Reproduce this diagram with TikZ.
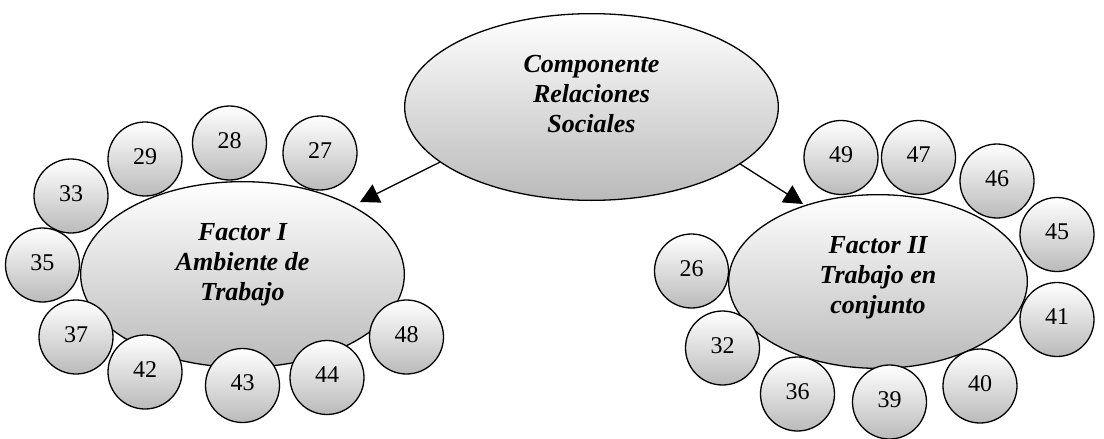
\documentclass[tikz,border=0pt]{standalone}
\usepackage{fontspec}
\setmainfont{Liberation Serif}
\usetikzlibrary{shapes.geometric,arrows.meta}

\tikzset{
  shaded/.style={draw=black, line width=1.3pt, top color=white, bottom color=black!27},
  bigoval/.style={shaded, ellipse, inner sep=0pt},
  item/.style={shaded, circle, inner sep=0pt, minimum size=74pt,
    font=\fontsize{24}{28}\selectfont, text height=16pt, text depth=6pt},
  title/.style={align=center, inner sep=0pt,
    font=\fontsize{26}{30}\selectfont\bfseries\itshape},
  link/.style={line width=1.3pt, -{Triangle[length=19pt,width=20pt]}},
}

\begin{document}
\begin{tikzpicture}[x=1pt, y=-1pt]
\useasboundingbox (0,0) rectangle (1104,439);

% main component and its two factors
\node[bigoval, minimum width=373.7pt, minimum height=186.7pt] (top) at (591.5,107) {};
\node[title] (toptext) at (591.5,94.5) {Componente\\Relaciones\\Sociales};

\node[bigoval, minimum width=323.7pt, minimum height=185.7pt] (f1) at (242.5,274.5) {};
\node[title] (f1text) at (242.5,265) {Factor I\\Ambiente de\\Trabajo};

\node[bigoval, minimum width=298.7pt, minimum height=173.7pt] (f2) at (878,281.5) {};
\node[title] (f2text) at (878,277.5) {Factor II\\Trabajo en\\conjunto};

% items of factor I
\node[item] (i29) at (145,159) {29};
\node[item] (i28) at (229.5,143) {28};
\node[item] (i27) at (320,153) {27};
\node[item] (i33) at (71,196) {33};
\node[item] (i35) at (42.5,265) {35};
\node[item] (i37) at (76,337) {37};
\node[item] (i42) at (145,372) {42};
\node[item] (i43) at (242.5,385.5) {43};
\node[item] (i44) at (327,377.5) {44};
\node[item] (i48) at (406.5,337) {48};

% items of factor II
\node[item] (i49) at (841,157.5) {49};
\node[item] (i47) at (918.5,157.5) {47};
\node[item] (i46) at (997,181) {46};
\node[item] (i45) at (1057,234.5) {45};
\node[item] (i26) at (691.5,271) {26};
\node[item] (i41) at (1057,319.5) {41};
\node[item] (i32) at (722.5,348) {32};
\node[item] (i36) at (797.5,394) {36};
\node[item] (i39) at (889.5,402) {39};
\node[item] (i40) at (980,386) {40};

% arrows from the component to each factor
\coordinate (tipL) at (360,202);
\coordinate (tipR) at (803,204);
\draw[link] (top.200.3) -- (tipL);
\draw[link] (top.-21.1) -- (tipR);
\end{tikzpicture}
\end{document}
